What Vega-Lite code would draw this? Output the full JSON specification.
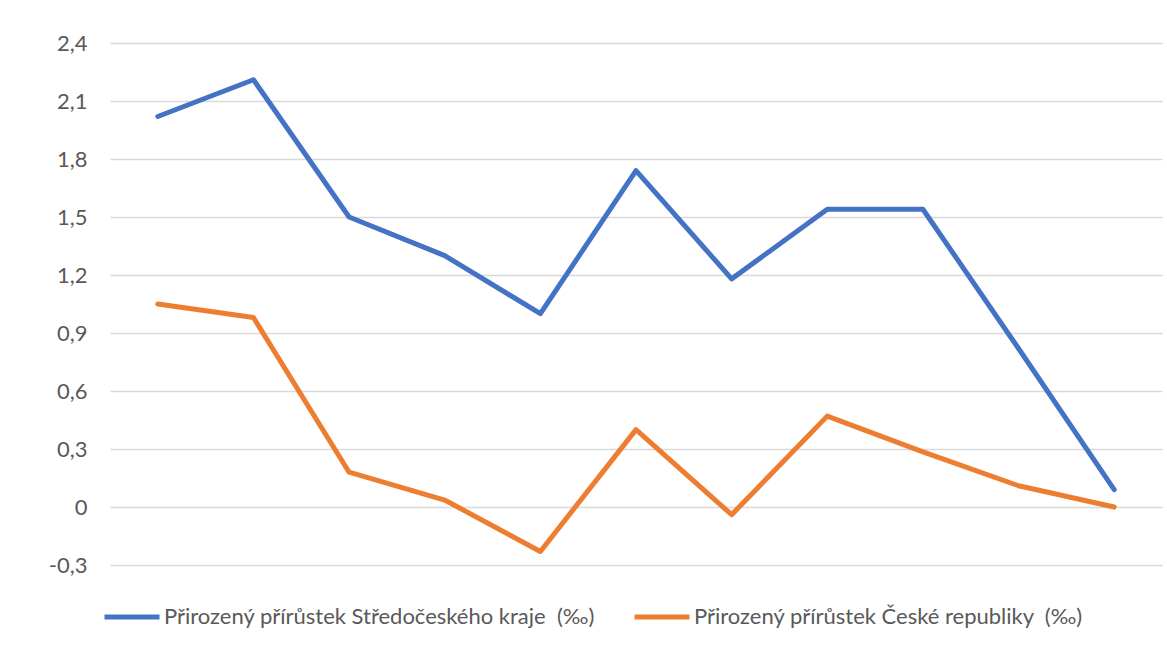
{
  "$schema": "https://vega.github.io/schema/vega-lite/v6.json",
  "width": 1052,
  "height": 522,
  "autosize": {"type": "none"},
  "padding": {"left": 110, "top": 43, "right": 5, "bottom": 80},
  "background": "white",
  "config": {
    "locale": {"number": {"decimal": ",", "thousands": " ", "grouping": [3], "currency": ["", " Kč"], "minus": "-"}},
    "view": {"stroke": null},
    "font": "Lato"
  },
  "data": {
    "values": [
      {"i": "1", "s": "Přirozený přírůstek Středočeského kraje  (‰)", "v": 2.02},
      {"i": "2", "s": "Přirozený přírůstek Středočeského kraje  (‰)", "v": 2.21},
      {"i": "3", "s": "Přirozený přírůstek Středočeského kraje  (‰)", "v": 1.5},
      {"i": "4", "s": "Přirozený přírůstek Středočeského kraje  (‰)", "v": 1.3},
      {"i": "5", "s": "Přirozený přírůstek Středočeského kraje  (‰)", "v": 1.0},
      {"i": "6", "s": "Přirozený přírůstek Středočeského kraje  (‰)", "v": 1.74},
      {"i": "7", "s": "Přirozený přírůstek Středočeského kraje  (‰)", "v": 1.18},
      {"i": "8", "s": "Přirozený přírůstek Středočeského kraje  (‰)", "v": 1.54},
      {"i": "9", "s": "Přirozený přírůstek Středočeského kraje  (‰)", "v": 1.54},
      {"i": "10", "s": "Přirozený přírůstek Středočeského kraje  (‰)", "v": 0.82},
      {"i": "11", "s": "Přirozený přírůstek Středočeského kraje  (‰)", "v": 0.09},
      {"i": "1", "s": "Přirozený přírůstek České republiky  (‰)", "v": 1.05},
      {"i": "2", "s": "Přirozený přírůstek České republiky  (‰)", "v": 0.98},
      {"i": "3", "s": "Přirozený přírůstek České republiky  (‰)", "v": 0.18},
      {"i": "4", "s": "Přirozený přírůstek České republiky  (‰)", "v": 0.036},
      {"i": "5", "s": "Přirozený přírůstek České republiky  (‰)", "v": -0.23},
      {"i": "6", "s": "Přirozený přírůstek České republiky  (‰)", "v": 0.4},
      {"i": "7", "s": "Přirozený přírůstek České republiky  (‰)", "v": -0.04},
      {"i": "8", "s": "Přirozený přírůstek České republiky  (‰)", "v": 0.47},
      {"i": "9", "s": "Přirozený přírůstek České republiky  (‰)", "v": 0.285},
      {"i": "10", "s": "Přirozený přírůstek České republiky  (‰)", "v": 0.11},
      {"i": "11", "s": "Přirozený přírůstek České republiky  (‰)", "v": 0.0}
    ]
  },
  "mark": {"type": "line", "strokeWidth": 5, "strokeCap": "round", "strokeJoin": "round"},
  "encoding": {
    "x": {
      "field": "i",
      "type": "ordinal",
      "sort": ["1","2","3","4","5","6","7","8","9","10","11"],
      "scale": {"type": "point", "padding": 0.5},
      "axis": null
    },
    "y": {
      "field": "v",
      "type": "quantitative",
      "scale": {"domain": [-0.3, 2.4], "nice": false, "zero": false},
      "axis": {
        "title": null,
        "values": [-0.3, 0, 0.3, 0.6, 0.9, 1.2, 1.5, 1.8, 2.1, 2.4],
        "format": ".1~f",
        "domain": false,
        "ticks": false,
        "labelPadding": 23,
        "labelFontSize": 22,
        "labelColor": "#595959",
        "labelFont": "Lato",
        "gridColor": "#d9d9d9",
        "gridWidth": 1.3
      }
    },
    "color": {
      "field": "s",
      "type": "nominal",
      "scale": {
        "domain": ["Přirozený přírůstek Středočeského kraje  (‰)", "Přirozený přírůstek České republiky  (‰)"],
        "range": ["#4472C4", "#ED7D31"]
      },
      "legend": {
        "title": null,
        "orient": "none",
        "direction": "horizontal",
        "columns": 2,
        "legendX": -8,
        "legendY": 544,
        "symbolType": "stroke",
        "symbolSize": 3025,
        "symbolStrokeWidth": 5,
        "labelFontSize": 22,
        "labelColor": "#595959",
        "labelFont": "Lato",
        "labelOffset": 2,
        "columnPadding": 29,
        "labelLimit": 700,
        "labelExpr": "replace(datum.label, '  (', '\u00a0\u00a0(')"
      }
    }
  }
}
